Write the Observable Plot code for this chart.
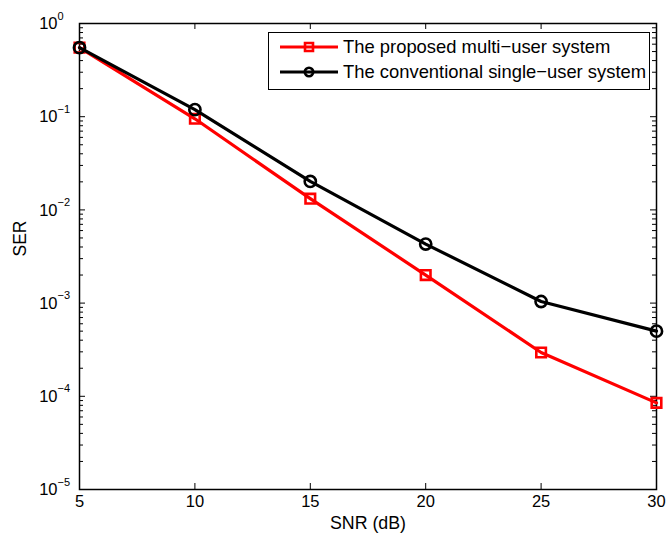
<!DOCTYPE html>
<html><head><meta charset="utf-8">
<script src="https://cdn.jsdelivr.net/npm/d3@7"></script>
<script src="https://cdn.jsdelivr.net/npm/@observablehq/plot@0.6"></script>
<style>
body{margin:0;background:#fff;font-family:"Liberation Sans",Arial,sans-serif;}
#wrap{position:relative;width:667px;height:535px;overflow:hidden;background:#fff}
#legend{position:absolute;left:268px;top:32px;width:382px;height:58px;border:1.5px solid #000;background:#fff;box-sizing:border-box;font-size:18.4px;color:#000}
#legend .row{position:absolute;left:0;height:20px;display:flex;align-items:center;white-space:nowrap}
#legend svg{display:block}
#legend span{margin-left:4px}
</style></head><body><div id="wrap"></div>
<script>
// ---- data ----
const snr = [5, 10, 15, 20, 25, 30];
const serProposed = [0.55, 0.095, 0.0132, 0.0020, 0.000295, 0.000085];
const serConventional = [0.55, 0.119, 0.0202, 0.0043, 0.00104, 0.00050];
const seriesNames = ["The proposed multi\u2212user system", "The conventional single\u2212user system"];
const seriesColors = ["#ff0000", "#000000"];
const xTicks = [5, 10, 15, 20, 25, 30];
const yTicks = [1e-5, 1e-4, 1e-3, 1e-2, 1e-1, 1];
const yExponents = ["\u22125", "\u22124", "\u22123", "\u22122", "\u22121", "0"];
const xLabel = "SNR (dB)";
const yLabel = "SER";

// ---- layout ----
const W = 667, H = 535, mL = 79, mR = 11, mT = 23, mB = 46;
const iw = W - mL - mR, ih = H - mT - mB;
const minorTicks = d3.range(-5, 0).flatMap(k => d3.range(2, 10).map(m => m * Math.pow(10, k)));
const proposed = snr.map((x, i) => ({x, y: serProposed[i]}));
const conventional = snr.map((x, i) => ({x, y: serConventional[i]}));
const expOf = new Map(yTicks.map((t, i) => [t, yExponents[i]]));

const chart = Plot.plot({
  width: W, height: H,
  marginLeft: mL, marginRight: mR, marginTop: mT, marginBottom: mB,
  style: {fontFamily: "'Liberation Sans', Arial, sans-serif", fontSize: "16px", background: "white", color: "black", overflow: "visible"},
  x: {domain: [5, 30], axis: null},
  y: {type: "log", domain: [1e-5, 1], axis: null},
  marks: [
    Plot.tickX(xTicks, {x: d => d, insetTop: ih - 6, stroke: "#000", strokeWidth: 1}),
    Plot.tickX(xTicks, {x: d => d, insetBottom: ih - 6, stroke: "#000", strokeWidth: 1}),
    Plot.tickY(yTicks, {y: d => d, insetRight: iw - 6, stroke: "#000", strokeWidth: 1}),
    Plot.tickY(yTicks, {y: d => d, insetLeft: iw - 6, stroke: "#000", strokeWidth: 1}),
    Plot.tickY(minorTicks, {y: d => d, insetRight: iw - 4, stroke: "#000", strokeWidth: 1}),
    Plot.tickY(minorTicks, {y: d => d, insetLeft: iw - 4, stroke: "#000", strokeWidth: 1}),
    Plot.frame({stroke: "#000", strokeWidth: 1.5}),
    Plot.text(xTicks, {x: d => d, frameAnchor: "bottom", dy: 17.5, text: d => String(d), fontSize: 16.5, fill: "#000"}),
    Plot.text(yTicks, {y: d => d, frameAnchor: "left", dx: -22, dy: 0.5, textAnchor: "end", text: d => "10", fontSize: 16.5, fill: "#000"}),
    Plot.text(yTicks, {y: d => d, frameAnchor: "left", dx: -22, dy: -7.5, textAnchor: "start", text: d => expOf.get(d), fontSize: 11, fill: "#000"}),
    Plot.text([xLabel], {frameAnchor: "bottom", dy: 39.5, text: d => d, fontSize: 17.8, fill: "#000"}),
    Plot.text([yLabel], {frameAnchor: "left", dx: -59, rotate: -90, text: d => d, fontSize: 17.5, fill: "#000"}),
    Plot.line(proposed, {x: "x", y: "y", stroke: seriesColors[0], strokeWidth: 3.2}),
    Plot.dot(proposed, {x: "x", y: "y", symbol: "square", r: 5.4, stroke: seriesColors[0], strokeWidth: 2.6, fill: "none"}),
    Plot.line(conventional, {x: "x", y: "y", stroke: seriesColors[1], strokeWidth: 3.2}),
    Plot.dot(conventional, {x: "x", y: "y", symbol: "circle", r: 5.6, stroke: seriesColors[1], strokeWidth: 2.6, fill: "none"})
  ]
});

const wrap = document.getElementById("wrap");
wrap.appendChild(chart);

// ---- legend (inside the axes, upper right) ----
const legend = document.createElement("div");
legend.id = "legend";
const symbols = ["square", "circle"];
seriesNames.forEach((name, i) => {
  const row = document.createElement("div");
  row.className = "row";
  row.style.top = (i === 0 ? 4 : 28.5) + "px";
  row.style.left = "10px";
  const ns = "http://www.w3.org/2000/svg";
  const s = document.createElementNS(ns, "svg");
  s.setAttribute("width", 60); s.setAttribute("height", 20);
  const ln = document.createElementNS(ns, "line");
  ln.setAttribute("x1", 1); ln.setAttribute("x2", 59); ln.setAttribute("y1", 10); ln.setAttribute("y2", 10);
  ln.setAttribute("stroke", seriesColors[i]); ln.setAttribute("stroke-width", 3.2);
  s.appendChild(ln);
  const sym = d3.symbol(symbols[i] === "square" ? d3.symbolSquare : d3.symbolCircle, Math.PI * (i === 0 ? 4.5 : 4.2) ** 2)();
  const p = document.createElementNS(ns, "path");
  p.setAttribute("d", sym); p.setAttribute("transform", "translate(30,10)");
  p.setAttribute("fill", "none"); p.setAttribute("stroke", seriesColors[i]); p.setAttribute("stroke-width", 2.6);
  s.appendChild(p);
  row.appendChild(s);
  const t = document.createElement("span");
  t.textContent = name;
  row.appendChild(t);
  legend.appendChild(row);
});
wrap.appendChild(legend);
</script>
</body></html>
